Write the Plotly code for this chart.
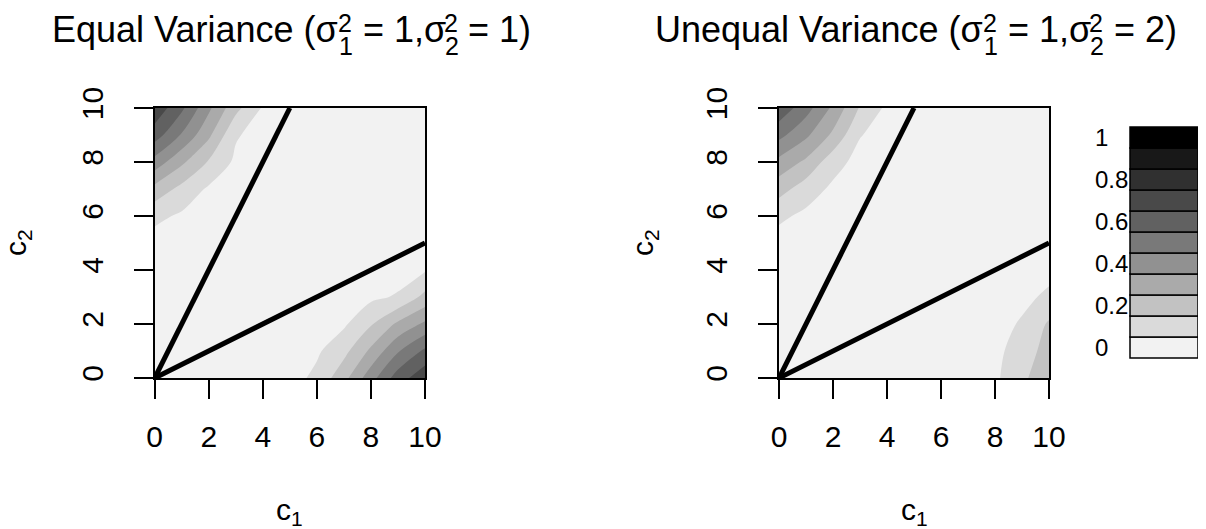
import plotly.graph_objects as go

# grid of the two variances plots (c1 along x, c2 along y)
c1_grid = [0, 1, 2, 3, 4, 5, 6, 7, 8, 9, 10]
c2_grid = [0, 1, 2, 3, 4, 5, 6, 7, 8, 9, 10]

# values (rows: c2 = 0..10, cols: c1 = 0..10)
z_equal = [
    [0, 0, 0, 0, 0, 0.01, 0.075, 0.217, 0.41, 0.60, 0.72],
    [0, 0, 0, 0, 0, 0.005, 0.035, 0.12, 0.27, 0.44, 0.57],
    [0, 0, 0, 0, 0, 0, 0.008, 0.035, 0.14, 0.27, 0.37],
    [0, 0, 0, 0, 0, 0, 0, 0.01, 0.03, 0.06, 0.18],
    [0, 0, 0, 0, 0, 0, 0, 0, 0.005, 0.01, 0.04],
    [0.01, 0.005, 0, 0, 0, 0, 0, 0, 0, 0, 0.005],
    [0.075, 0.035, 0.008, 0, 0, 0, 0, 0, 0, 0, 0],
    [0.217, 0.12, 0.035, 0.01, 0, 0, 0, 0, 0, 0, 0],
    [0.41, 0.27, 0.14, 0.03, 0.005, 0, 0, 0, 0, 0, 0],
    [0.60, 0.44, 0.27, 0.06, 0.01, 0, 0, 0, 0, 0, 0],
    [0.72, 0.57, 0.37, 0.18, 0.04, 0.005, 0, 0, 0, 0, 0],
]

# values
z_unequal = [
    [0, 0, 0, 0, 0, 0, 0, 0, 0.03, 0.135, 0.2],
    [0, 0, 0, 0, 0, 0, 0, 0, 0.02, 0.105, 0.185],
    [0, 0, 0, 0, 0, 0, 0, 0, 0.005, 0.063, 0.163],
    [0, 0, 0, 0, 0, 0, 0, 0, 0, 0.02, 0.073],
    [0, 0, 0, 0, 0, 0, 0, 0, 0, 0.003, 0.015],
    [0.01, 0.003, 0, 0, 0, 0, 0, 0, 0, 0, 0],
    [0.07, 0.028, 0.007, 0, 0, 0, 0, 0, 0, 0, 0],
    [0.19, 0.10, 0.03, 0.005, 0, 0, 0, 0, 0, 0, 0],
    [0.32, 0.23, 0.09, 0.015, 0.003, 0, 0, 0, 0, 0, 0],
    [0.48, 0.37, 0.23, 0.055, 0.01, 0, 0, 0, 0, 0, 0],
    [0.62, 0.49, 0.33, 0.14, 0.03, 0, 0, 0, 0, 0, 0],
]

# the two boundary lines c2 = 2*c1 and c2 = c1/2
steep_c1 = [0, 5]
steep_c2 = [0, 10]
flat_c1 = [0, 10]
flat_c2 = [0, 5]

key_levels = [0, 0.1, 0.2, 0.3, 0.4, 0.5, 0.6, 0.7, 0.8, 0.9, 1.0]
key_colors = ['#f2f2f2', '#dadada', '#c2c2c2', '#aaaaaa', '#919191', '#797979',
              '#616161', '#494949', '#303030', '#181818', '#000000']
key_ticks = [0, 0.2, 0.4, 0.6, 0.8, 1.0]
key_ticktext = ['0', '0.2', '0.4', '0.6', '0.8', '1']
axis_ticks = [0, 2, 4, 6, 8, 10]

FONT = 'Liberation Sans, Arial, sans-serif'
# the page body keeps its 8px default margin, so the figure is 8px smaller
# and all pixel positions below are given in window coordinates
PAD = 8
W, H = 1206 - PAD, 529 - PAD

# stepped colorscale so every contour band gets one flat grey
step = 0.1
lo, hi = key_levels[0] - step, key_levels[-1] + step
n = len(key_colors)
edges = [0.0] + [round((key_levels[i] - step / 2 - lo) / (hi - lo), 6) for i in range(1, n)] + [1.0]
colorscale = []
for i, col in enumerate(key_colors):
    colorscale += [[edges[i], col], [edges[i + 1], col]]

fig = go.Figure()

for k, z in enumerate([z_equal, z_unequal]):
    xa = 'x' if k == 0 else 'x2'
    ya = 'y' if k == 0 else 'y2'
    fig.add_trace(go.Contour(
        x=c1_grid, y=c2_grid, z=z,
        colorscale=colorscale, showscale=False,
        contours=dict(start=key_levels[0] - step / 2, end=key_levels[-1] + step / 2,
                      size=step, coloring='fill', showlines=False),
        line=dict(width=0, smoothing=1),
        hoverinfo='skip', xaxis=xa, yaxis=ya))
    for lx, ly in [(steep_c1, steep_c2), (flat_c1, flat_c2)]:
        fig.add_trace(go.Scatter(x=lx, y=ly, mode='lines',
                                 line=dict(color='black', width=5),
                                 hoverinfo='skip', xaxis=xa, yaxis=ya))

# colour key
fig.add_trace(go.Bar(
    x=[0] * len(key_levels), y=[step] * len(key_levels),
    base=[v - step / 2 for v in key_levels], width=1,
    marker=dict(color=key_colors, line=dict(color='black', width=1.5)),
    hoverinfo='skip', xaxis='x3', yaxis='y3'))


def px_x(p):
    return (p - PAD) / W


def px_y(p):
    return (H - (p - PAD)) / H


ax_common = dict(range=[0, 10], tickvals=axis_ticks, ticks='outside', ticklen=19,
                 tickwidth=1.8, tickcolor='black', showline=True, mirror=True,
                 linewidth=1.8, linecolor='black', showgrid=False, zeroline=False,
                 automargin=False, fixedrange=True,
                 tickfont=dict(family=FONT, size=30, color='black'))

ydom = [px_y(378), px_y(108)]
fig.update_layout(
    xaxis=dict(domain=[px_x(154.7), px_x(425)], anchor='y', ticklabelstandoff=12, **ax_common),
    yaxis=dict(domain=ydom, anchor='x', tickangle=-90, ticklabelstandoff=19, **ax_common),
    xaxis2=dict(domain=[px_x(779), px_x(1049)], anchor='y2', ticklabelstandoff=12, **ax_common),
    yaxis2=dict(domain=ydom, anchor='x2', tickangle=-90, ticklabelstandoff=19, **ax_common),
    # key: 1 unit of y = 210 px, range padded so end labels are kept
    xaxis3=dict(domain=[px_x(1092), px_x(1198)], anchor='y3', range=[-1.059, 0.5],
                visible=False, fixedrange=True, automargin=False),
    yaxis3=dict(domain=[px_y(379), px_y(106)], anchor='x3', range=[-0.15, 1.15],
                tickvals=key_ticks, ticktext=key_ticktext, ticks='',
                ticklabelposition='inside', showline=False, showgrid=False,
                zeroline=False, automargin=False, fixedrange=True,
                tickfont=dict(family=FONT, size=24, color='black')),
    width=W, height=H,
    margin=dict(l=0, r=0, t=0, b=0, autoexpand=False),
    paper_bgcolor='white', plot_bgcolor='white',
    showlegend=False,
    font=dict(family=FONT, color='black'),
)

NB = '\u00a0'


def text(x, y, s, size, **kw):
    fig.add_annotation(x=px_x(x), y=px_y(y), xref='paper', yref='paper', text=s,
                       showarrow=False, font=dict(family=FONT, size=size, color='black'),
                       **kw)


ARIAL_EM = {'E': .667, 'U': .722, 'V': .667, 'q': .556, 'u': .556, 'a': .556, 'l': .222,
            'n': .556, 'e': .556, 'r': .333, 'i': .222, 'c': .5, '(': .333, ')': .333,
            'σ': .571, '=': .584, ',': .278, '1': .556, '2': .556, ' ': .278, NB: .278}


def len_em(s):
    return sum(ARIAL_EM.get(ch, .556) for ch in s)


# titles built from pieces so the sigma gets a stacked sub- and superscript
def title(center, head, v1, v2):
    fs, ss = 36, 25
    mid = NB + '=' + NB + v1 + ',σ'
    tail = NB + '=' + NB + v2 + ')'
    w_head, w_mid, w_tail = len_em(head) * fs, len_em(mid) * fs, len_em(tail) * fs
    w_s = 0.556 * ss
    x0 = center - (w_head + w_mid + w_tail + 2 * w_s) / 2
    ty = 29
    opts = dict(xanchor='left', yanchor='middle')
    sup = dict(xanchor='left', yanchor='top', borderpad=0)
    text(x0, ty, head, fs, **opts)
    x1 = x0 + w_head
    text(x1, PAD, '2', ss, **sup)
    text(x1, 46, '1', ss, **opts)
    x2 = x1 + w_s
    text(x2, ty, mid, fs, **opts)
    x3 = x2 + w_mid
    text(x3, PAD, '2', ss, **sup)
    text(x3, 46, '2', ss, **opts)
    x4 = x3 + w_s
    text(x4, ty, tail, fs, **opts)


title(289.9, 'Equal' + NB + 'Variance' + NB + '(σ', '1', '1')
title(914, 'Unequal' + NB + 'Variance' + NB + '(σ', '1', '2')

# axis titles
ctr = dict(xanchor='center', yanchor='middle')
text(289.9, 511, 'c<sub>1</sub>', 30, **ctr)
text(914, 511, 'c<sub>1</sub>', 30, **ctr)
text(17, 243, 'c<sub>2</sub>', 30, textangle=-90, **ctr)
text(644, 243, 'c<sub>2</sub>', 30, textangle=-90, **ctr)

fig.write_html('out.html')
